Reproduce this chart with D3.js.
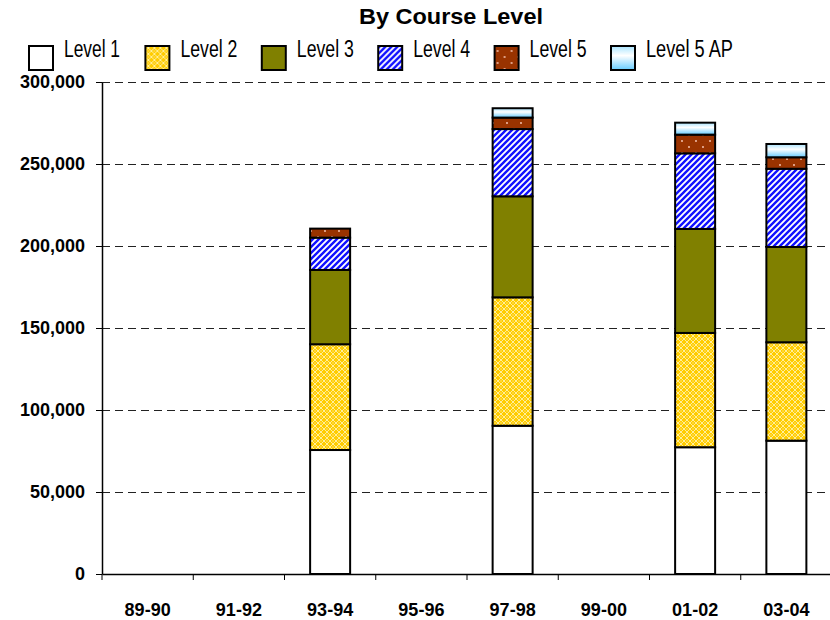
<!DOCTYPE html>
<html>
<head>
<meta charset="utf-8">
<script src="https://cdn.jsdelivr.net/npm/d3@7"></script>
<style>
  body { margin: 0; background: #fff; }
  svg { display: block; }
</style>
</head>
<body>
<div id="chart"></div>
<script>
/* global d3 */
// categories and series
var categories = ["89-90", "91-92", "93-94", "95-96", "97-98", "99-00", "01-02", "03-04"];
var levels = ["Level 1", "Level 2", "Level 3", "Level 4", "Level 5", "Level 5 AP"];
var level1 = [null, null, 75600, null, 90400, null, 77300, 81300];
var level2 = [null, null, 64500, null, 78300, null, 69700, 60000];
var level3 = [null, null, 45300, null, 61600, null, 63400, 58100];
var level4 = [null, null, 19700, null, 41000, null, 46100, 47700];
var level5 = [null, null, 5500, null, 7000, null, 11400, 7000];
var level5AP = [null, null, 0, null, 5700, null, 7300, 8100];
var yTicks = [0, 50000, 100000, 150000, 200000, 250000, 300000];

var series = [level1, level2, level3, level4, level5, level5AP];

var width = 830;
var height = 620;
var margin = {left: 102, right: 832, top: 82, bottom: 574};

var svg = d3.select("#chart")
    .append("svg")
    .attr("width", width)
    .attr("height", height);

var defs = svg.append("defs");

// Level 2 : gold with light lattice
var p2 = defs.append("pattern")
    .attr("id", "pLevel2")
    .attr("patternUnits", "userSpaceOnUse")
    .attr("width", 6).attr("height", 6);
p2.append("rect").attr("width", 6).attr("height", 6).attr("fill", "#FFCC00");
p2.append("path")
    .attr("d", "M0,3 L3,0 L6,3 L3,6 Z")
    .attr("fill", "none")
    .attr("stroke", "#FFEE99")
    .attr("stroke-width", 1);
p2.append("rect").attr("x", 2.5).attr("y", 2.5).attr("width", 1).attr("height", 1).attr("fill", "#FFF6C8");

// Level 4 : blue diagonal stripes
var p4 = defs.append("pattern")
    .attr("id", "pLevel4")
    .attr("patternUnits", "userSpaceOnUse")
    .attr("width", 6).attr("height", 6);
p4.append("rect").attr("width", 6).attr("height", 6).attr("fill", "#FFFFFF");
p4.append("path")
    .attr("d", "M-1.5,1.5 L1.5,-1.5 M0,6 L6,0 M4.5,7.5 L7.5,4.5")
    .attr("stroke", "#1010FF")
    .attr("stroke-width", 2.4);

// Level 5 : brown with sparse dots
var p5 = defs.append("pattern")
    .attr("id", "pLevel5")
    .attr("patternUnits", "userSpaceOnUse")
    .attr("width", 14).attr("height", 12);
p5.append("rect").attr("width", 14).attr("height", 12).attr("fill", "#993300");
p5.append("circle").attr("cx", 3).attr("cy", 3).attr("r", 0.9).attr("fill", "#FFD0C0");
p5.append("circle").attr("cx", 10).attr("cy", 9).attr("r", 0.9).attr("fill", "#FFD0C0");

// Level 5 AP : light blue gradient
var gAP = defs.append("linearGradient")
    .attr("id", "gLevel5AP")
    .attr("x1", 0).attr("y1", 0).attr("x2", 0).attr("y2", 1);
gAP.append("stop").attr("offset", "0%").attr("stop-color", "#A8E4FF");
gAP.append("stop").attr("offset", "40%").attr("stop-color", "#FFFFFF");
gAP.append("stop").attr("offset", "100%").attr("stop-color", "#66CCFF");

var fills = ["#FFFFFF", "url(#pLevel2)", "#808000", "url(#pLevel4)", "url(#pLevel5)", "url(#gLevel5AP)"];

var x = d3.scaleBand()
    .domain(categories)
    .range([margin.left, margin.right])
    .padding(0);

var y = d3.scaleLinear()
    .domain([0, 300000])
    .range([margin.bottom, margin.top]);

// gridlines
svg.append("g")
    .attr("class", "grid")
    .selectAll("line")
    .data(yTicks.filter(d => d > 0))
    .enter().append("line")
    .attr("x1", margin.left)
    .attr("x2", width)
    .attr("y1", d => y(d) + 0.5)
    .attr("y2", d => y(d) + 0.5)
    .attr("stroke", "#222")
    .attr("stroke-width", 1)
    .attr("stroke-dasharray", "8,5");

// stacked data
var rows = categories.map(function (c, i) {
    var row = {cat: c};
    levels.forEach(function (l, j) {
        row[l] = series[j][i] || 0;
    });
    return row;
}).filter(r => levels.some(l => r[l] > 0));

var stacked = d3.stack().keys(levels)(rows);
var barW = 40;

var layers = svg.append("g")
    .attr("class", "bars")
    .selectAll("g")
    .data(stacked)
    .enter().append("g")
    .attr("fill", (d, i) => fills[i]);

layers.selectAll("rect")
    .data(d => d.filter(s => s[1] - s[0] > 0))
    .enter().append("rect")
    .attr("x", d => x(d.data.cat) + x.bandwidth() / 2 - barW / 2)
    .attr("width", barW)
    .attr("y", d => y(d[1]))
    .attr("height", d => y(d[0]) - y(d[1]))
    .attr("stroke", "#000")
    .attr("stroke-width", 2);

// y axis
var yAxis = svg.append("g")
    .attr("transform", "translate(" + margin.left + ",0)")
    .call(d3.axisLeft(y)
        .tickValues(yTicks)
        .tickFormat(d3.format(","))
        .tickSize(6)
        .tickSizeOuter(0)
        .tickPadding(11));
yAxis.select(".domain").attr("stroke", "#000").attr("stroke-width", 1.5);
yAxis.selectAll(".tick line").attr("stroke", "#000");
yAxis.selectAll("text")
    .attr("font-family", "'Liberation Sans', Arial, sans-serif")
    .attr("font-size", 18)
    .attr("font-weight", "bold")
    .attr("fill", "#000");

// x axis
var xAxis = svg.append("g")
    .attr("transform", "translate(0," + margin.bottom + ")")
    .call(d3.axisBottom(x).tickSize(0).tickSizeOuter(0));
xAxis.select(".domain").attr("stroke", "#000").attr("stroke-width", 1.5);
xAxis.selectAll("text")
    .attr("y", 42)
    .attr("dy", 0)
    .attr("font-family", "'Liberation Sans', Arial, sans-serif")
    .attr("font-size", 18)
    .attr("font-weight", "bold")
    .attr("fill", "#000");
xAxis.selectAll("line.sep")
    .data(categories)
    .enter().append("line")
    .attr("class", "sep")
    .attr("x1", d => x(d))
    .attr("x2", d => x(d))
    .attr("y1", 0)
    .attr("y2", 6)
    .attr("stroke", "#000");

// title
svg.append("text")
    .attr("x", 451)
    .attr("y", 24)
    .attr("text-anchor", "middle")
    .attr("font-family", "'Liberation Sans', Arial, sans-serif")
    .attr("font-size", 22)
    .attr("font-weight", "bold")
    .attr("textLength", 184)
    .attr("lengthAdjust", "spacingAndGlyphs")
    .text("By Course Level");

// legend
var legendW = [56, 57, 57, 57, 57, 87];
var legend = svg.append("g")
    .attr("class", "legend")
    .selectAll("g")
    .data(levels)
    .enter().append("g")
    .attr("transform", (d, i) => "translate(" + (29 + i * 116.4) + ",0)");

legend.append("rect")
    .attr("x", 0)
    .attr("y", 46)
    .attr("width", 24)
    .attr("height", 24)
    .attr("fill", (d, i) => fills[i])
    .attr("stroke", "#000")
    .attr("stroke-width", 2);

legend.append("text")
    .attr("x", 35)
    .attr("y", 57)
    .attr("font-family", "'Liberation Sans Narrow', 'Arial Narrow', 'Liberation Sans', sans-serif")
    .attr("font-size", 23)
    .attr("textLength", (d, i) => legendW[i])
    .attr("lengthAdjust", "spacingAndGlyphs")
    .text(d => d);
</script>
</body>
</html>
